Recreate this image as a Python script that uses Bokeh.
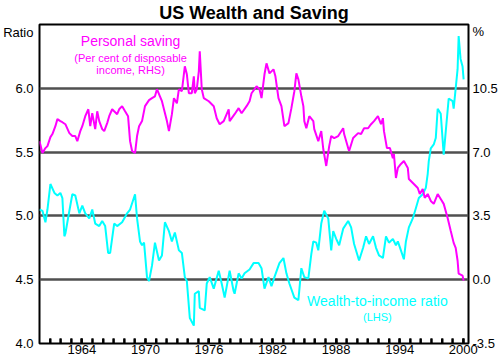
from bokeh.plotting import figure
from bokeh.models import Range1d, LinearAxis, FixedTicker, PrintfTickFormatter, Label
from bokeh.embed import file_html
from bokeh.resources import INLINE

# ---- data ----
saving_year = [1960.00, 1960.28, 1960.56, 1960.75, 1961.03, 1961.22, 1961.50, 1961.69, 1961.97, 1962.16,
               1962.44, 1962.82, 1963.10, 1963.38, 1963.57, 1963.85, 1964.04, 1964.32, 1964.61, 1964.79,
               1964.98, 1965.26, 1965.45, 1965.64, 1965.92, 1966.11, 1966.39, 1966.58, 1966.86, 1967.05,
               1967.33, 1967.52, 1967.80, 1968.08, 1968.36, 1968.55, 1968.74, 1969.02, 1969.21, 1969.40,
               1969.68, 1969.96, 1970.34, 1970.62, 1970.90, 1971.09, 1971.37, 1971.56, 1971.75, 1972.03,
               1972.22, 1972.50, 1972.69, 1972.97, 1973.16, 1973.44, 1973.72, 1973.91, 1974.10, 1974.38,
               1974.57, 1974.66, 1974.85, 1975.04, 1975.13, 1975.32, 1975.51, 1975.98, 1976.45, 1976.73,
               1977.01, 1977.39, 1977.86, 1977.95, 1978.42, 1978.80, 1979.08, 1979.55, 1979.83, 1980.02,
               1980.49, 1980.77, 1980.96, 1981.24, 1981.43, 1981.71, 1982.09, 1982.27, 1982.56, 1982.84,
               1983.12, 1983.50, 1983.78, 1984.06, 1984.25, 1984.44, 1984.72, 1984.91, 1985.00, 1985.19,
               1985.47, 1985.85, 1985.94, 1986.32, 1986.60, 1986.79, 1987.07, 1987.35, 1987.54, 1987.82,
               1988.20, 1988.67, 1988.76, 1989.14, 1989.23, 1989.61, 1990.08, 1990.36, 1990.64, 1991.02,
               1991.30, 1991.58, 1991.95, 1992.24, 1992.42, 1992.52, 1992.80, 1993.08, 1993.36, 1993.46,
               1993.65, 1993.83, 1994.12, 1994.40, 1994.77, 1994.87, 1995.34, 1995.71, 1995.90, 1996.18,
               1996.37, 1996.65, 1996.94, 1997.22, 1997.59, 1997.88, 1998.16, 1998.53, 1998.82, 1999.10,
               1999.29, 1999.47, 1999.57, 1999.94, 2000.04]
saving_pct = [7.60, 6.95, 7.22, 7.33, 7.82, 7.99, 8.42, 8.81, 8.70, 8.64,
              8.53, 8.04, 7.88, 7.88, 7.60, 8.15, 8.42, 8.97, 9.35, 8.42,
              9.13, 8.26, 9.24, 8.70, 8.26, 8.15, 8.59, 8.97, 9.35, 9.24,
              9.08, 9.35, 9.52, 9.24, 8.97, 7.60, 7.06, 6.95, 7.88, 8.42,
              8.70, 9.52, 9.85, 9.96, 10.06, 10.45, 10.06, 9.79, 9.35, 8.70,
              8.15, 9.08, 9.96, 9.68, 10.45, 10.34, 11.71, 11.27, 10.23, 10.23,
              11.16, 10.23, 10.45, 11.43, 12.53, 10.45, 9.96, 9.79, 9.52, 8.86,
              8.53, 8.70, 9.35, 8.70, 9.08, 9.41, 9.13, 9.52, 9.79, 10.23,
              10.61, 10.45, 9.96, 11.27, 11.87, 11.32, 11.54, 11.16, 9.96, 9.52,
              8.42, 8.59, 9.41, 10.34, 11.32, 10.99, 10.06, 9.52, 8.70, 8.31,
              8.97, 8.70, 8.26, 7.60, 8.15, 7.17, 6.24, 7.33, 7.88, 7.77,
              7.88, 8.31, 7.99, 7.22, 7.06, 7.77, 8.04, 7.99, 8.31, 8.31,
              8.53, 8.70, 8.97, 8.53, 8.86, 8.15, 7.22, 7.22, 6.67, 6.89,
              5.58, 6.13, 6.35, 6.51, 6.13, 5.52, 5.25, 5.03, 4.70, 4.98,
              4.49, 4.70, 4.32, 4.16, 4.70, 4.43, 4.16, 3.39, 2.68, 2.02,
              1.75, 1.04, 0.33, 0.22, -0.05]

wealth_year = [1960.00, 1960.28, 1960.56, 1960.75, 1961.03, 1961.41, 1961.69, 1961.97, 1962.16, 1962.35,
               1962.44, 1962.82, 1963.10, 1963.38, 1963.76, 1964.04, 1964.32, 1964.70, 1964.98, 1965.26,
               1965.64, 1965.92, 1966.20, 1966.48, 1966.67, 1967.05, 1967.33, 1967.80, 1968.27, 1968.55,
               1969.02, 1969.21, 1969.49, 1969.68, 1969.87, 1970.15, 1970.34, 1970.62, 1970.90, 1971.28,
               1971.56, 1971.84, 1972.22, 1972.50, 1972.78, 1973.16, 1973.44, 1973.72, 1973.91, 1974.19,
               1974.57, 1974.66, 1975.04, 1975.13, 1975.60, 1975.79, 1976.07, 1976.45, 1976.92, 1977.20,
               1977.48, 1977.95, 1978.33, 1978.42, 1978.80, 1979.08, 1979.36, 1979.83, 1980.21, 1980.68,
               1980.96, 1981.24, 1981.62, 1981.90, 1982.18, 1982.65, 1983.03, 1983.31, 1983.59, 1984.06,
               1984.44, 1984.72, 1985.00, 1985.38, 1985.66, 1985.85, 1986.13, 1986.32, 1986.60, 1986.88,
               1987.26, 1987.54, 1987.73, 1988.01, 1988.29, 1988.67, 1989.14, 1989.42, 1989.70, 1990.17,
               1990.55, 1990.83, 1991.11, 1991.49, 1991.77, 1992.05, 1992.42, 1992.71, 1992.99, 1993.36,
               1993.65, 1993.83, 1994.12, 1994.40, 1994.59, 1994.87, 1995.24, 1995.53, 1995.81, 1996.18,
               1996.47, 1996.65, 1996.75, 1996.94, 1997.22, 1997.41, 1997.59, 1997.88, 1998.16, 1998.35,
               1998.63, 1999.00, 1999.10, 1999.47, 1999.57, 1999.75, 1999.94, 2000.04]
wealth_ratio = [5.05, 5.04, 4.95, 5.05, 5.25, 5.18, 5.16, 5.18, 5.14, 4.84,
                4.86, 5.04, 5.17, 5.16, 5.02, 5.08, 5.02, 4.98, 5.05, 4.94,
                4.92, 4.96, 4.92, 4.71, 4.71, 4.94, 4.92, 4.95, 5.02, 5.05,
                5.17, 4.98, 4.80, 4.77, 4.79, 4.52, 4.49, 4.61, 4.79, 4.65,
                4.69, 4.95, 4.88, 4.80, 4.87, 4.73, 4.71, 4.52, 4.49, 4.20,
                4.14, 4.39, 4.41, 4.28, 4.26, 4.47, 4.52, 4.43, 4.57, 4.47,
                4.36, 4.57, 4.41, 4.39, 4.55, 4.51, 4.55, 4.58, 4.63, 4.63,
                4.59, 4.43, 4.52, 4.45, 4.52, 4.63, 4.67, 4.55, 4.47, 4.36,
                4.34, 4.59, 4.52, 4.51, 4.70, 4.80, 4.79, 4.73, 4.94, 5.04,
                4.98, 4.73, 4.88, 4.82, 4.77, 4.90, 4.96, 4.91, 4.78, 4.65,
                4.75, 4.84, 4.78, 4.84, 4.75, 4.69, 4.67, 4.84, 4.79, 4.82,
                4.77, 4.80, 4.73, 4.66, 4.80, 4.91, 4.98, 5.06, 5.14, 5.17,
                5.22, 5.33, 5.43, 5.53, 5.56, 5.61, 5.84, 5.80, 5.48, 5.66,
                5.92, 5.90, 5.84, 6.15, 6.41, 6.23, 6.17, 6.07]

left_ticks = [4.0, 4.5, 5.0, 5.5, 6.0]
right_ticks = [-3.5, 0.0, 3.5, 7.0, 10.5]
year_ticks = [1964, 1970, 1976, 1982, 1988, 1994, 2000]
year_minor = list(range(1961, 2001))
left_unit, left_unit_pos = "Ratio", 6.44
right_unit, right_unit_pos = "%", 13.6

FONT = "Liberation Sans"
MAGENTA = "#ff00ff"
CYAN = "#00ffff"

p = figure(width=500, height=359, output_backend="svg", toolbar_location=None,
           x_range=Range1d(1960, 2000.5), y_range=Range1d(4.0, 6.5),
           min_border_left=37, min_border_right=32, min_border_top=24, min_border_bottom=16,
           background_fill_color="white", border_fill_color="white")
p.extra_y_ranges = {"pct": Range1d(-3.5, 14.0)}

p.title.text = "US Wealth and Saving"
p.title.align = "center"
p.title.vertical_align = "top"
p.title.text_font = FONT
p.title.text_font_size = "18px"
p.title.text_font_style = "bold"
p.title.text_color = "black"
p.title.standoff = 0
p.title.offset = 0

p.outline_line_color = "black"
p.outline_line_width = 2
p.xgrid.visible = False
p.ygrid.ticker = FixedTicker(ticks=[4.5, 5.0, 5.5, 6.0])
p.ygrid.grid_line_color = "#505050"
p.ygrid.grid_line_width = 2.5

# bottom axis
xa = p.xaxis[0]
xa.ticker = FixedTicker(ticks=year_ticks, minor_ticks=year_minor)
xa.major_tick_in = 5
xa.major_tick_out = 0
xa.minor_tick_in = 5
xa.minor_tick_out = 0
xa.major_tick_line_width = 2
xa.minor_tick_line_width = 2
xa.axis_line_color = None
xa.major_label_standoff = 1
xa.major_label_text_font = FONT
xa.major_label_text_font_size = "13px"
xa.major_label_text_color = "black"

# left axis
ya = p.yaxis[0]
ya.ticker = FixedTicker(ticks=left_ticks + [left_unit_pos])
ya.formatter = PrintfTickFormatter(format="%.1f")
ya.major_label_overrides = {left_unit_pos: left_unit}
ya.major_tick_in = 0
ya.major_tick_out = 0
ya.minor_tick_line_color = None
ya.axis_line_color = None
ya.major_label_standoff = 6
ya.major_label_text_font = FONT
ya.major_label_text_font_size = "13px"
ya.major_label_text_color = "black"

# right axis
ra = LinearAxis(y_range_name="pct", ticker=FixedTicker(ticks=right_ticks + [right_unit_pos]),
                formatter=PrintfTickFormatter(format="%.1f"))
ra.major_label_overrides = {right_unit_pos: right_unit}
ra.major_tick_in = 0
ra.major_tick_out = 0
ra.minor_tick_line_color = None
ra.axis_line_color = None
ra.major_label_standoff = 4
ra.major_label_text_font = FONT
ra.major_label_text_font_size = "13px"
ra.major_label_text_color = "black"
p.add_layout(ra, "right")

# inward year ticks on the bottom edge
p.segment(x0=year_minor, y0=[4.0] * len(year_minor), x1=year_minor, y1=[4.04] * len(year_minor),
          line_color="black", line_width=2)

# series
p.line(wealth_year, wealth_ratio, line_color=CYAN, line_width=2)
p.line(saving_year, saving_pct, line_color=MAGENTA, line_width=2, y_range_name="pct")

def lab(x, y, text, size, color, style="normal", align="center", rng="default"):
    p.add_layout(Label(x=x, y=y, text=text, text_align=align, text_baseline="middle",
                       text_font=FONT, text_font_size=size, text_color=color,
                       text_font_style=style, y_range_name=rng))

lab(1968.6, 6.367, "Personal saving", "14px", MAGENTA)
lab(1968.6, 6.234, "(Per cent of disposable", "11px", MAGENTA)
lab(1968.6, 6.14, "income, RHS)", "11px", MAGENTA)
lab(1991.9, 4.336, "Wealth-to-income ratio", "14px", CYAN)
lab(1991.9, 4.207, "(LHS)", "11px", CYAN)

open("out.html", "w").write(file_html(p, INLINE))
